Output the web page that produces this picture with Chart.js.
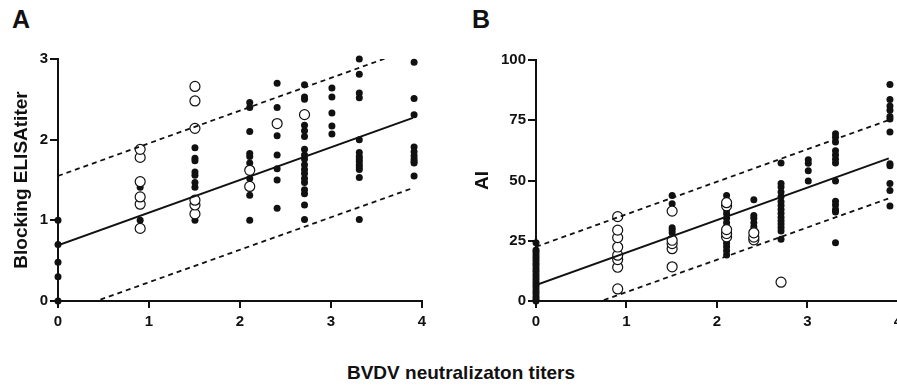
<!DOCTYPE html>
<html>
<head>
<meta charset="utf-8">
<script src="https://cdn.jsdelivr.net/npm/chart.js@4/dist/chart.umd.min.js"></script>
<style>
  html, body { margin: 0; padding: 0; background: #fff; }
  body { width: 897px; height: 387px; position: relative; overflow: hidden; font-family: "Liberation Sans", Arial, sans-serif; }
  .panel { position: absolute; top: 0; }
  .letter { position: absolute; top: 7px; font-weight: bold; font-size: 25px; line-height: 1; color: #111; }
  #xtitle { position: absolute; top: 363px; left: 461px; transform: translateX(-50%); font-weight: bold; font-size: 19px; line-height: 1; color: #111; white-space: nowrap; }
</style>
</head>
<body>
<div class="letter" style="left:12px">A</div>
<div class="letter" style="left:472px">B</div>
<div class="panel" style="left:0"><canvas id="chartA" width="445" height="345"></canvas></div>
<div class="panel" style="left:447px"><canvas id="chartB" width="460" height="345"></canvas></div>
<div id="xtitle">BVDV neutralizaton titers</div>

<script>
// log10 neutralization titers (x columns)
const titers = [0, 0.903, 1.505, 2.107, 2.408, 2.709, 3.01, 3.311, 3.913];

// panel A: blocking ELISA titer, one list per titer column
const elisaFilled = [
  [0, 0.3, 0.48, 0.7, 1.0],
  [1.0, 1.41],
  [1.0, 1.41, 1.47, 1.56, 1.6, 1.74, 1.77, 1.9],
  [1.0, 1.31, 1.52, 1.71, 1.79, 1.83, 2.1, 2.4, 2.46],
  [1.15, 1.5, 1.64, 1.81, 2.05, 2.4, 2.7],
  [1.01, 1.19, 1.33, 1.38, 1.47, 1.52, 1.58, 1.63, 1.69, 1.76, 1.81, 1.88, 2.04, 2.11, 2.18, 2.5, 2.53, 2.68],
  [2.07, 2.17, 2.33, 2.53, 2.64],
  [1.01, 1.53, 1.63, 1.66, 1.69, 1.73, 1.76, 1.79, 1.84, 2.0, 2.52, 2.58, 2.81, 3.0],
  [1.55, 1.71, 1.73, 1.76, 1.8, 1.85, 1.91, 2.31, 2.51, 2.96]
];
const elisaOpen = [
  [],
  [0.9, 1.2, 1.29, 1.48, 1.78, 1.88],
  [1.08, 1.19, 1.25, 2.14, 2.48, 2.66],
  [1.42, 1.62],
  [2.2],
  [2.31],
  [], [], []
];
// regression line and prediction band, values at x = 0 and x = 3.9
const lineEndsX = [0, 3.9];
const elisaFit = [0.69, 2.27];
const elisaUpper = [1.55, 3.13];
const elisaLower = [-0.17, 1.40];

// panel B: AI
const aiFilled = [
  [0, 0.8, 1.9, 3.1, 4.2, 5.4, 6.5, 7.7, 8.8, 10, 11.1, 12.3, 13.4, 14.6, 15.7, 16.9, 18, 19.2, 20.3, 21.2, 24.2],
  [],
  [28.3, 29.5, 30.4, 40.4, 43.8],
  [19.1, 20.9, 22.5, 24, 25.5, 28.1, 30.8, 32.5, 34.3, 36.2, 37.8, 41.2, 43.8],
  [29.5, 30.8, 32.5, 34.3, 35.5, 42.0],
  [25.6, 29.0, 30.5, 31.9, 33.3, 34.8, 36.4, 38.0, 39.6, 41.2, 43.3, 45.2, 47.3, 48.8, 57.3],
  [49.8, 54.0, 57.2, 58.6],
  [24.2, 36.9, 38.0, 39.8, 41.4, 49.8, 57.3, 58.8, 60.6, 62.3, 66.0, 67.9, 69.4],
  [39.4, 45.8, 48.8, 56.1, 57.0, 70.1, 75.5, 76.6, 79.2, 80.9, 83.6, 89.8]
];
const aiOpen = [
  [],
  [5.0, 14.0, 17.2, 19.0, 22.4, 26.3, 29.4, 35.0],
  [14.2, 21.7, 23.8, 25.2, 37.3],
  [26.6, 28.0, 29.6, 39.5, 40.8],
  [25.4, 26.5, 28.3],
  [7.8],
  [], [], []
];
const aiFit = [6.6, 59.2];
const aiUpper = [22.5, 75.1];
const aiLower = [-9.7, 42.6];

const FONT = '"Liberation Sans", Arial, sans-serif';
const INK = '#111';

function toPoints(cols) {
  const pts = [];
  cols.forEach((ys, i) => ys.forEach(y => pts.push({ x: titers[i], y: y })));
  return pts;
}

function lineSet(ys, dashed) {
  return {
    data: lineEndsX.map((x, i) => ({ x: x, y: ys[i] })),
    showLine: true,
    pointRadius: 0,
    borderColor: INK,
    borderWidth: dashed ? 1.8 : 2,
    borderDash: dashed ? [5, 4] : [],
    clip: 0
  };
}

function makePanel(id, filled, open, fit, upper, lower, yMax, yStep, yTitle, opts) {
  const ctx = document.getElementById(id).getContext('2d');
  return new Chart(ctx, {
    type: 'scatter',
    data: {
      datasets: [
        lineSet(fit, false),
        lineSet(upper, true),
        lineSet(lower, true),
        {
          data: toPoints(open),
          pointRadius: 5,
          pointBackgroundColor: '#fff',
          pointBorderColor: INK,
          pointBorderWidth: 1.2,
          clip: false
        },
        {
          data: toPoints(filled),
          pointRadius: 3.5,
          pointBackgroundColor: INK,
          pointBorderWidth: 0,
          clip: false
        }
      ]
    },
    options: {
      responsive: false,
      devicePixelRatio: 1,
      animation: false,
      events: [],
      layout: { padding: { left: 0, top: opts.top, right: opts.right, bottom: 0 } },
      plugins: { legend: { display: false }, tooltip: { enabled: false } },
      scales: {
        x: {
          type: 'linear',
          min: 0,
          max: 4,
          afterFit: s => { s.height = 44; },
          ticks: { stepSize: 1, color: INK, padding: 5, font: { family: FONT, size: 15, weight: 'bold' } },
          grid: { drawOnChartArea: false, drawTicks: true, tickLength: 7, color: INK, lineWidth: 2 },
          border: { display: true, color: INK, width: 2 }
        },
        y: {
          type: 'linear',
          min: 0,
          max: yMax,
          afterFit: s => { s.width = opts.yWidth; },
          ticks: { stepSize: yStep, color: INK, padding: 2, font: { family: FONT, size: 15, weight: 'bold' } },
          grid: { drawOnChartArea: false, drawTicks: true, tickLength: 8, color: INK, lineWidth: 2 },
          border: { display: true, color: INK, width: 2 },
          title: {
            display: true,
            text: yTitle,
            color: INK,
            padding: { top: opts.titlePad, bottom: 0 },
            font: { family: FONT, size: 19, weight: 'bold' }
          }
        }
      }
    }
  });
}

makePanel('chartA', elisaFilled, elisaOpen, elisaFit, elisaUpper, elisaLower, 3, 1, 'Blocking ELISAtiter',
  { top: 59, right: 23, yWidth: 58, titlePad: 10 });
makePanel('chartB', aiFilled, aiOpen, aiFit, aiUpper, aiLower, 100, 25, 'AI',
  { top: 60, right: 7, yWidth: 89, titlePad: 24 });
</script>
</body>
</html>
